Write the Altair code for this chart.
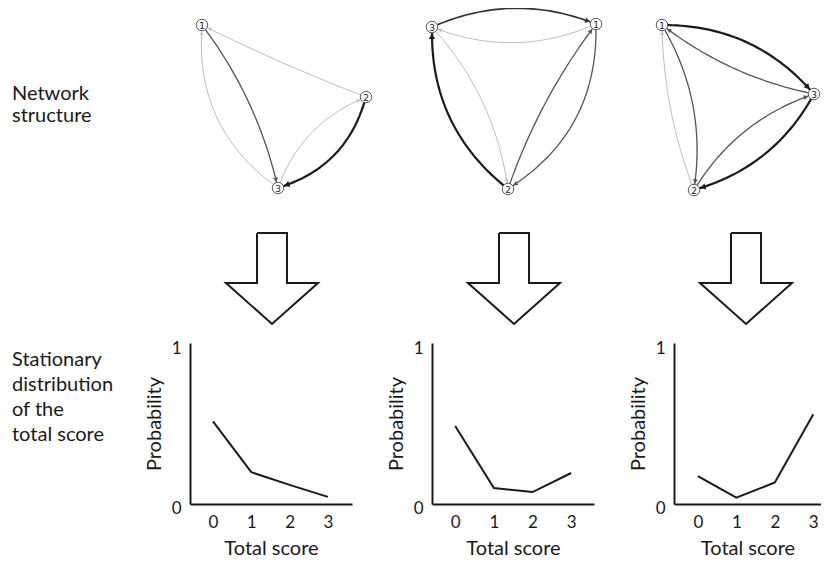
import math
import numpy as np
import pandas as pd
import altair as alt

# ---------------- data ----------------
scores = [0, 1, 2, 3]
prob_left = [0.52, 0.20, 0.12, 0.045]
prob_mid = [0.49, 0.10, 0.075, 0.195]
prob_right = [0.175, 0.04, 0.135, 0.565]

node_labels = ["1", "2", "3"]
# node layout of each drawn network
net1_x = [202, 366, 278]
net1_y = [25, 97, 188]
net2_x = [596, 508, 432]
net2_y = [24, 189, 27]
net3_x = [662, 694, 814]
net3_y = [25, 190, 94]

# directed edges: source node, target node, strength class (0 weak .. 3 strong)
net1_src = [1, 3, 2, 3, 2]
net1_tgt = [3, 1, 1, 2, 3]
net1_str = [1, 0, 0, 0, 3]
net2_src = [3, 1, 2, 3, 2, 1]
net2_tgt = [1, 3, 3, 2, 1, 2]
net2_str = [2, 0, 3, 0, 1, 1]
net3_src = [1, 3, 1, 2, 2, 3]
net3_tgt = [3, 1, 2, 1, 3, 2]
net3_str = [3, 1, 1, 0, 1, 3]

# ---------------- styling ----------------
net1_bend = [9, 24, 2, 13, 16]
net2_bend = [16, 16, 21, 13, 7, 25]
net3_bend = [18, 9, 14, 7, 13, 15]
arrow_centers = [272, 514, 746]

FONT = "Lato"
INK = "#1a1a1a"
edge_color = {0: "#bdbdbd", 1: "#555555", 2: "#333333", 3: "#1a1a1a"}
edge_width = {0: 1.0, 1: 1.3, 2: 1.7, 3: 2.2}
NODE_R = 6.5

# ---------------- network geometry ----------------
edge_rows, head_rows, node_rows = [], [], []
nets = [
    (net1_x, net1_y, net1_src, net1_tgt, net1_str, net1_bend),
    (net2_x, net2_y, net2_src, net2_tgt, net2_str, net2_bend),
    (net3_x, net3_y, net3_src, net3_tgt, net3_str, net3_bend),
]
all_edges = []
for ni, (xs, ys, src, tgt, strength, bend) in enumerate(nets):
    for lab, x, y in zip(node_labels, xs, ys):
        node_rows.append(dict(x=x, y=y, label=lab))
    for s, t, k, b in zip(src, tgt, strength, bend):
        all_edges.append((k, ni, xs, ys, s, t, b))
all_edges.sort(key=lambda e: e[0])

for eid, (k, ni, xs, ys, s, t, b) in enumerate(all_edges):
    p0 = np.array([xs[s - 1], ys[s - 1]], float)
    p2 = np.array([xs[t - 1], ys[t - 1]], float)
    d = p2 - p0
    u = d / np.linalg.norm(d)
    nrm = np.array([u[1], -u[0]])
    c = (p0 + p2) / 2 + nrm * 2 * b
    a = p0 + NODE_R * (c - p0) / np.linalg.norm(c - p0)
    e = p2 + NODE_R * (c - p2) / np.linalg.norm(c - p2)
    for i, tt in enumerate(np.linspace(0, 1, 40)):
        pt = (1 - tt) ** 2 * a + 2 * (1 - tt) * tt * c + tt ** 2 * e
        edge_rows.append(dict(eid=f"e{eid:02d}", i=i, x=pt[0], y=pt[1],
                              col=edge_color[k], w=edge_width[k]))
    tan = (e - c) / np.linalg.norm(e - c)
    ang = math.degrees(math.atan2(tan[0], -tan[1])) % 360
    hs = 16 + 8 * k
    h = math.sqrt(hs) / 2 * math.sqrt(3) / 2
    hc = e - tan * h
    head_rows.append(dict(x=hc[0], y=hc[1], ang=ang, col=edge_color[k], size=hs))

edges_df = pd.DataFrame(edge_rows)
heads_df = pd.DataFrame(head_rows)
nodes_df = pd.DataFrame(node_rows)

# block arrows
arrow_rows = []
for ai, cx in enumerate(arrow_centers):
    pts = [(cx - 15, 233), (cx + 15, 233), (cx + 15, 283), (cx + 46, 283),
           (cx, 324), (cx - 46, 283), (cx - 15, 283), (cx - 15, 233)]
    for i, (x, y) in enumerate(pts):
        arrow_rows.append(dict(aid=ai, i=i, x=x, y=y))
arrows_df = pd.DataFrame(arrow_rows)

net_text_df = pd.DataFrame({"text": ["Network", "structure"], "x": [12, 12], "y": [100, 122]})

# ---------------- canvas (top) ----------------
W_TOP, H_TOP = 813, 335
cx_enc = alt.X("x:Q", scale=alt.Scale(domain=[8, 8 + W_TOP], nice=False, zero=False), axis=None)
cy_enc = alt.Y("y:Q", scale=alt.Scale(domain=[8, 8 + H_TOP], reverse=True, nice=False, zero=False), axis=None)

edges_layer = alt.Chart(edges_df).mark_line(strokeCap="round", clip=True).encode(
    x=cx_enc, y=cy_enc, detail="eid:N", order="i:Q",
    color=alt.Color("col:N", scale=None),
    strokeWidth=alt.StrokeWidth("w:Q", scale=None),
)
heads_layer = alt.Chart(heads_df).mark_point(shape="triangle-up", filled=True, opacity=1, clip=True).encode(
    x=cx_enc, y=cy_enc,
    angle=alt.Angle("ang:Q", scale=None),
    color=alt.Color("col:N", scale=None),
    size=alt.Size("size:Q", scale=None),
)
nodes_layer = alt.Chart(nodes_df).mark_point(
    shape="circle", filled=True, fill="white", stroke="#333333", strokeWidth=0.8,
    size=math.pi * NODE_R ** 2, opacity=1, fillOpacity=1, clip=True,
).encode(x=cx_enc, y=cy_enc)
node_text_layer = alt.Chart(nodes_df).mark_text(
    font="DejaVu Sans", fontSize=9, color="#222222", align="center", baseline="middle", dy=0.5, clip=True
).encode(x=cx_enc, y=cy_enc, text="label:N")
arrows_layer = alt.Chart(arrows_df).mark_line(color=INK, strokeWidth=2, strokeJoin="miter").encode(
    x=cx_enc, y=cy_enc, detail="aid:N", order="i:Q"
)
net_text_layer = alt.Chart(net_text_df).mark_text(
    font=FONT, fontSize=20, color=INK, align="left", baseline="alphabetic"
).encode(x=cx_enc, y=cy_enc, text="text:N")

top = alt.layer(edges_layer, heads_layer, nodes_layer, node_text_layer,
                arrows_layer, net_text_layer).properties(width=W_TOP, height=H_TOP)

# ---------------- bottom row ----------------
label_df = pd.DataFrame({
    "text": ["Stationary", "distribution", "of the", "total score"],
    "x": [12] * 4,
    "y": [366, 391, 416, 441],
})
label_chart = alt.Chart(label_df).mark_text(
    font=FONT, fontSize=20, color=INK, align="left", baseline="alphabetic"
).encode(
    x=alt.X("x:Q", scale=alt.Scale(domain=[8, 110], nice=False, zero=False), axis=None),
    y=alt.Y("y:Q", scale=alt.Scale(domain=[343, 504], reverse=True, nice=False, zero=False), axis=None),
    text="text:N",
).properties(width=102, height=161)


def panel(probs, xdom, w):
    df = pd.DataFrame({"score": scores, "prob": probs})
    return alt.Chart(df).mark_line(color=INK, strokeWidth=2).encode(
        x=alt.X("score:Q", scale=alt.Scale(domain=xdom, nice=False, zero=False),
                axis=alt.Axis(values=scores, title="Total score", format="d", labelFlush=False)),
        y=alt.Y("prob:Q", scale=alt.Scale(domain=[0, 1.0125], nice=False, zero=False),
                axis=alt.Axis(values=[0, 1], title="Probability", format="d",
                              labelFlush=False, labelOffset=4)),
    ).properties(width=w, height=161)


lc1 = panel(prob_left, [-0.6, 3.63], 162)
lc2 = panel(prob_mid, [-0.6, 3.59], 162)
lc3 = panel(prob_right, [-0.62, 3.2], 147)

bottom = alt.hconcat(label_chart, lc1, lc2, lc3, spacing=80, bounds="flush")

chart = alt.vconcat(top, bottom, spacing=0, bounds="flush").properties(
    padding=0
).configure_view(stroke=None).configure_axis(
    domainColor=INK, domainWidth=2, ticks=False, tickSize=0, grid=False,
    labelFont=FONT, labelFontSize=17, labelColor=INK,
    titleFont=FONT, titleFontSize=20, titleFontWeight="normal", titleColor=INK,
).configure_axisX(labelPadding=10, titlePadding=8).configure_axisY(labelPadding=9, titlePadding=7)

chart.save("out.html", embed_options={"renderer": "svg", "actions": False})
